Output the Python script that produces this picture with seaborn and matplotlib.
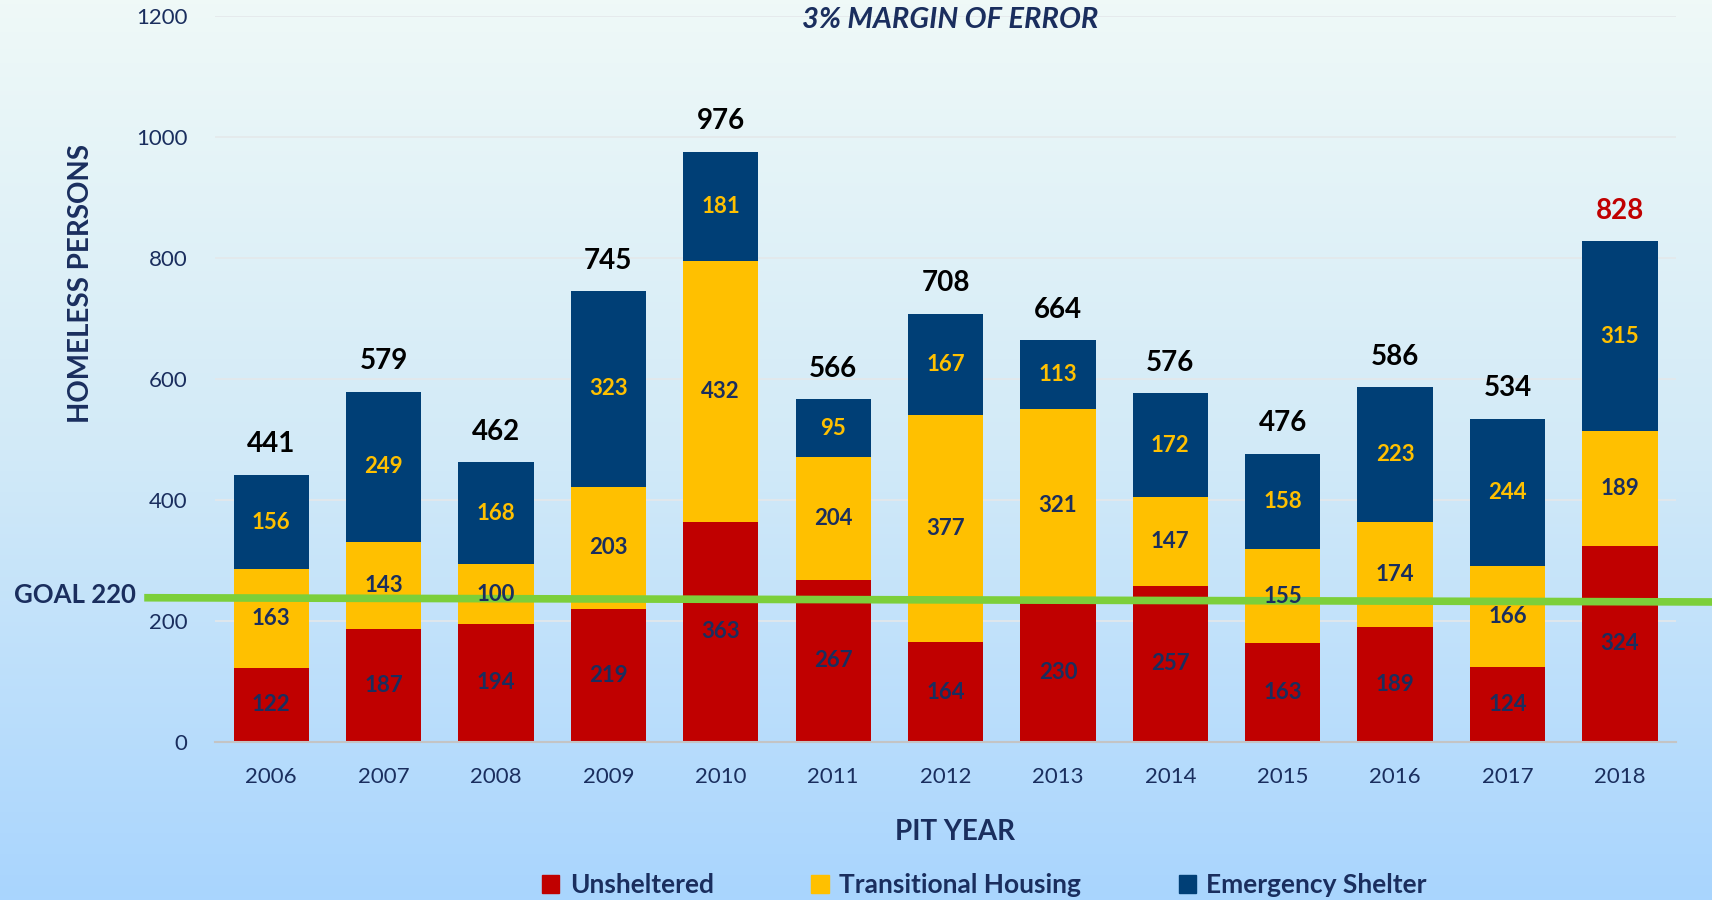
import numpy as np
import pandas as pd
import matplotlib
matplotlib.use("Agg")
import matplotlib.pyplot as plt
from matplotlib.patches import Patch
from matplotlib.colors import LinearSegmentedColormap
import seaborn as sns

# data
years = ["2006", "2007", "2008", "2009", "2010", "2011", "2012",
         "2013", "2014", "2015", "2016", "2017", "2018"]
unsheltered = [122, 187, 194, 219, 363, 267, 164, 230, 257, 163, 189, 124, 324]
transitional = [163, 143, 100, 203, 432, 204, 377, 321, 147, 155, 174, 166, 189]
emergency = [156, 249, 168, 323, 181, 95, 167, 113, 172, 158, 223, 244, 315]
goal_line = [238, 231]  # green goal line as drawn (left end, right end)
goal_label = "GOAL 220"

RED = "#C00000"
YELLOW = "#FFC000"
NAVY = "#003F76"
TEXT = "#1A2E5E"
GREEN = "#7CCF3A"

df = pd.DataFrame({
    "year": years,
    "unsheltered": unsheltered,
    "transitional": transitional,
    "emergency": emergency,
})
df["red_top"] = df["unsheltered"]
df["yellow_top"] = df["unsheltered"] + df["transitional"]
df["total"] = df["yellow_top"] + df["emergency"]

sns.set_theme(style="white")
plt.rcParams["font.family"] = ["Lato", "DejaVu Sans"]

fig = plt.figure(figsize=(17.12, 9), dpi=100)

# gradient background
bg = fig.add_axes([0, 0, 1, 1], zorder=-10)
cmap = LinearSegmentedColormap.from_list("bg", ["#EFF9F7", "#D2EAF8", "#A9D5FE"])
grad = np.linspace(0, 1, 256).reshape(-1, 1)
bg.imshow(grad, aspect="auto", cmap=cmap, extent=[0, 1, 0, 1])
bg.set_axis_off()

ax = fig.add_axes([0.1256, 0.176, 0.8534, 0.806])
ax.patch.set_alpha(0)

w = 0.67
for col, c in [("total", NAVY), ("yellow_top", YELLOW), ("red_top", RED)]:
    sns.barplot(data=df, x="year", y=col, color=c, saturation=1, width=w, ax=ax,
                zorder=2, linewidth=0)

ax.set_ylim(0, 1200)
ax.set_xlim(-0.5, 12.5)
ax.set_yticks(range(0, 1201, 200))
ax.yaxis.grid(True, color="#E4E8EA", linewidth=1.2)
ax.set_axisbelow(True)
for s in ["left", "top", "right"]:
    ax.spines[s].set_visible(False)
ax.spines["bottom"].set_color("#C4C4C4")
ax.spines["bottom"].set_linewidth(1.5)
ax.tick_params(axis="both", length=0, labelsize=16, labelcolor=TEXT)
ax.tick_params(axis="y", pad=20)
ax.tick_params(axis="x", pad=18)
ax.set_xlabel("")
ax.set_ylabel("HOMELESS PERSONS", fontsize=20, fontweight="bold", color=TEXT)
ax.yaxis.set_label_coords(-0.083, 0.631)

# segment labels
for i, row in df.iterrows():
    ax.text(i, row["unsheltered"] / 2, str(row["unsheltered"]), ha="center", va="center",
            fontsize=16, fontweight="bold", color=TEXT, zorder=5)
    ax.text(i, row["red_top"] + row["transitional"] / 2, str(row["transitional"]),
            ha="center", va="center", fontsize=16, fontweight="bold", color=TEXT, zorder=5)
    ax.text(i, row["yellow_top"] + row["emergency"] / 2, str(row["emergency"]),
            ha="center", va="center", fontsize=16, fontweight="bold", color=YELLOW, zorder=5)
    ax.annotate(str(row["total"]), (i, row["total"]), xytext=(0, 22), textcoords="offset points",
                ha="center", va="center", fontsize=20, fontweight="bold",
                color=RED if i == len(df) - 1 else "black", zorder=5)

# goal line running past the axes
ax.plot([-1.13, 12.82], goal_line, color=GREEN, linewidth=5.5, clip_on=False, zorder=4,
        solid_capstyle="butt")
fig.text(0.008, 0.339, goal_label, ha="left", va="center", fontsize=18.5,
         fontweight="bold", color=TEXT)

fig.text(0.555, 0.978, "3% MARGIN OF ERROR", ha="center", va="center", fontsize=21,
         fontweight="bold", fontstyle="italic", color=TEXT)
fig.text(0.558, 0.0756, "PIT YEAR", ha="center", va="center", fontsize=20,
         fontweight="bold", color=TEXT)

handles = [Patch(color=RED, label="Unsheltered"),
           Patch(color=YELLOW, label="Transitional Housing"),
           Patch(color=NAVY, label="Emergency Shelter")]
leg = fig.legend(handles=handles, loc="center", bbox_to_anchor=(0.575, 0.0167), ncol=3,
                 frameon=False, handlelength=0.65, handleheight=0.65, handletextpad=0.4,
                 columnspacing=3.7, prop={"size": 19, "weight": "bold"})
for t in leg.get_texts():
    t.set_color(TEXT)

fig.savefig("out.png", dpi=100)
